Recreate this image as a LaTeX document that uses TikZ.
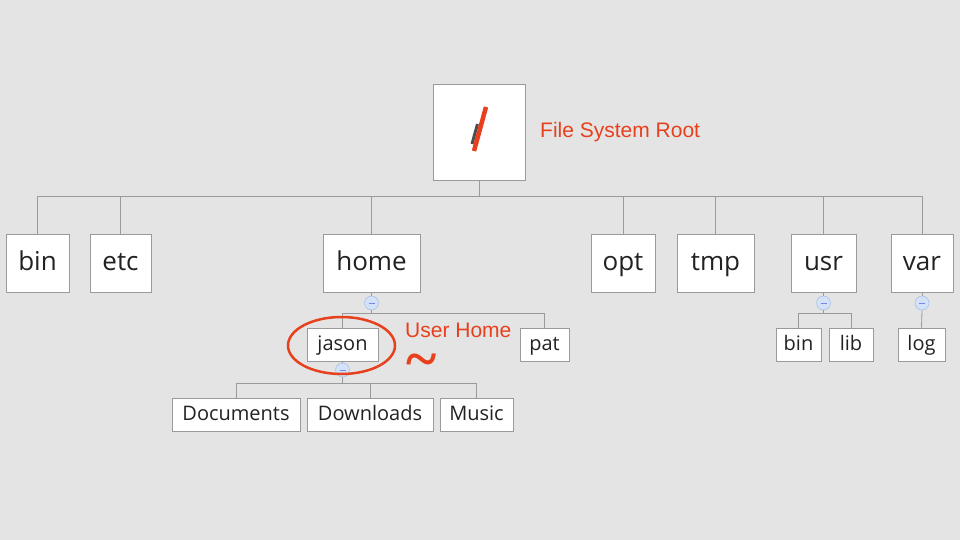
\documentclass[tikz,border=0pt]{standalone}
\usepackage{fontspec}
\setmainfont{Open Sans}
\newfontfamily\labelfont{Liberation Sans}
\newfontfamily\tildefont{Liberation Serif}
\definecolor{bg}{HTML}{E4E4E4}
\definecolor{boxline}{HTML}{9A9A9A}
\definecolor{txt}{HTML}{222222}
\definecolor{hlred}{HTML}{E8401C}
\definecolor{knobfill}{HTML}{D4E2F7}
\definecolor{knobline}{HTML}{A9C1E6}
\tikzset{
  dirbox/.style={draw=boxline, fill=white, line width=0.8pt, inner sep=0pt, text=txt},
  lvlone/.style={dirbox, minimum height=58pt, font=\fontsize{26}{30}\selectfont, text height=19pt, text depth=5pt},
  lvltwo/.style={dirbox, minimum height=33pt, font=\fontsize{20}{24}\selectfont, text height=16pt, text depth=4pt},
  conn/.style={draw=boxline, line width=0.8pt},
  knob/.style={circle, draw=knobline, fill=knobfill, minimum size=14pt, inner sep=0pt, line width=0.6pt},
  redlabel/.style={text=hlred, font=\labelfont\fontsize{21}{25}\selectfont, anchor=base west, inner sep=0pt}
}
\newcommand{\knobminus}[1]{\draw[knobline!70!blue, line width=0.7pt] ([xshift=-3pt]#1.center) -- ([xshift=3pt]#1.center);}
\begin{document}
\begin{tikzpicture}[x=1pt, y=-1pt]
\fill[bg] (0,0) rectangle (960,540);
\useasboundingbox (0,0) rectangle (960,540);

% root
\node[dirbox, minimum width=92pt, minimum height=96pt] (root) at (479,132) {};
\draw[txt!80, line width=3pt] (477.5,124) -- (472,144);
\draw[hlred, line width=4.5pt] (486,107) -- (474,151);
\node[redlabel] (rootlbl) at (540,138) {File System Root};

% level 1
\node[lvlone, minimum width=63pt] (bin) at (37.5,263) {bin};
\node[lvlone, minimum width=61pt] (etc) at (120.5,263) {etc};
\node[lvlone, minimum width=97pt] (home) at (371.5,263) {home};
\node[lvlone, minimum width=64pt] (opt) at (623,263) {opt};
\node[lvlone, minimum width=77pt] (tmp) at (715.5,263) {tmp};
\node[lvlone, minimum width=65pt] (usr) at (823.5,263) {usr};
\node[lvlone, minimum width=62pt] (var) at (922,263) {var};

\foreach \c in {bin,etc,home,opt,tmp,usr,var}{
  \draw[conn] (root.south) -- ++(0,16) -| (\c.north);
}

% knobs
\node[knob] (hk) at (371.5,303) {};
\node[knob] (uk) at (823.5,303) {};
\node[knob] (vk) at (922,303) {};
\knobminus{hk}\knobminus{uk}\knobminus{vk}

% level 2
\node[lvltwo, minimum width=71pt] (jason) at (342.5,344.5) {jason};
\node[lvltwo, minimum width=49pt] (pat) at (544.5,344.5) {pat};
\node[lvltwo, minimum width=45pt] (ubin) at (798.5,344.5) {bin};
\node[lvltwo, minimum width=44pt] (lib) at (851,344.5) {lib};
\node[lvltwo, minimum width=47pt] (log) at (921.5,344.5) {log};

\draw[conn] (home.south) -- (hk.north);
\draw[conn] (usr.south) -- (uk.north);
\draw[conn] (var.south) -- (vk.north);
\foreach \c in {jason,pat}{ \draw[conn] (hk.south) -- ++(0,3) -| (\c.north); }
\foreach \c in {ubin,lib}{ \draw[conn] (uk.south) -- ++(0,3) -| (\c.north); }
\draw[conn] (vk.south) -- (log.north);

% level 3
\node[knob] (jk) at (342.5,370) {};
\knobminus{jk}
\node[lvltwo, minimum width=128pt] (docs) at (236,414.5) {Documents};
\node[lvltwo, minimum width=126pt] (dl) at (370,414.5) {Downloads};
\node[lvltwo, minimum width=73pt] (music) at (476.5,414.5) {Music};
\draw[conn] (jason.south) -- (jk.north);
\foreach \c in {docs,dl,music}{ \draw[conn] (jk.south) -- ++(0,6) -| (\c.north); }

% annotations
\draw[hlred, line width=2.5pt] (341.5,345.5) ellipse [x radius=53.5pt, y radius=28.5pt];
\node[redlabel] (homelbl) at (405,337) {User Home};
\node[text=hlred, font=\tildefont\bfseries\fontsize{58}{58}\selectfont, inner sep=0pt, anchor=base] (tilde) at (422,378) {\smash{\char"007E}};
\end{tikzpicture}
\end{document}
